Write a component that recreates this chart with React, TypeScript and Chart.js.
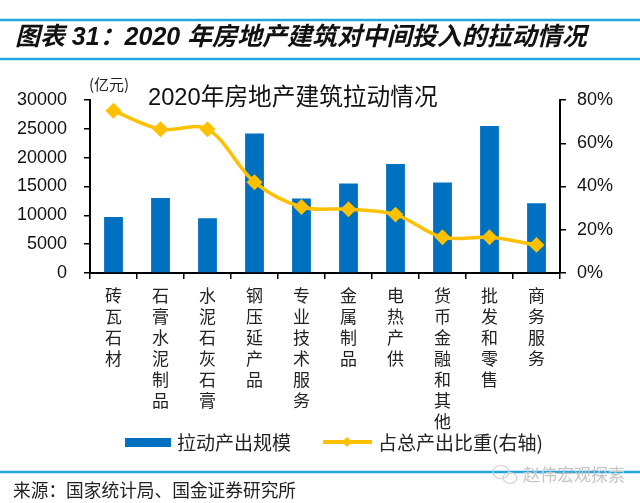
import React, { useEffect, useRef } from 'react';
import { Chart, registerables } from 'chart.js';

Chart.register(...registerables);

const categories = ['砖瓦石材', '石膏水泥制品', '水泥石灰石膏', '钢压延产品', '专业技术服务', '金属制品', '电热产供', '货币金融和其他', '批发和零售', '商务服务'];
const pullOutput = [9700, 13000, 9500, 24200, 12900, 15500, 18900, 15700, 25500, 12100];
const shareOfOutput = [75, 66.5, 66.5, 42, 30.5, 29.5, 27, 16.5, 16.5, 13];
const leftAxis = { min: 0, max: 30000, step: 5000 };
const rightAxis = { min: 0, max: 80, step: 20 };
const pageTitle = '图表 31：2020 年房地产建筑对中间投入的拉动情况';
const chartTitle = '2020年房地产建筑拉动情况';
const unitLabel = '(亿元)';
const seriesNames = ['拉动产出规模', '占总产出比重(右轴)'];
const sourceText = '来源：国家统计局、国金证券研究所';
const watermarkText = '赵伟宏观探索';

const BLUE = '#0070C0';
const GOLD = '#FFC000';
const RULE = '#22A6DE';
const CJK = "'Noto Sans CJK SC', 'Liberation Sans', sans-serif";
const LAT = "'Liberation Sans', 'Noto Sans CJK SC', sans-serif";

const decorations = {
  id: 'decorations',
  afterDraw(chart: any) {
    const ctx: CanvasRenderingContext2D = chart.ctx;
    const W = chart.width;
    ctx.save();
    // horizontal rules
    ctx.strokeStyle = RULE;
    ctx.lineWidth = 2.5;
    [20, 59, 472].forEach((y) => {
      ctx.beginPath();
      ctx.moveTo(0, y);
      ctx.lineTo(W, y);
      ctx.stroke();
    });

    // page title, fitted to width
    ctx.fillStyle = '#111';
    ctx.textBaseline = 'middle';
    ctx.textAlign = 'left';
    let size = 24;
    ctx.font = `italic bold ${size}px ${LAT}`;
    const w = ctx.measureText(pageTitle).width;
    size = size * 572 / w;
    ctx.font = `italic bold ${size}px ${LAT}`;
    ctx.fillText(pageTitle, 15, 38);

    // unit label
    ctx.fillStyle = '#222';
    ctx.font = `15px ${CJK}`;
    ctx.fillText(unitLabel, 89, 84);

    // chart title
    ctx.fillStyle = '#111';
    ctx.font = `23.7px ${LAT}`;
    ctx.fillText(chartTitle, 148, 98);

    // legend
    ctx.fillStyle = BLUE;
    ctx.fillRect(125, 438, 46, 9);
    ctx.fillStyle = '#222';
    ctx.font = `19px ${CJK}`;
    ctx.fillText(seriesNames[0], 177, 443);
    ctx.strokeStyle = GOLD;
    ctx.lineWidth = 4;
    ctx.beginPath();
    ctx.moveTo(323, 442);
    ctx.lineTo(372, 442);
    ctx.stroke();
    ctx.fillStyle = GOLD;
    ctx.beginPath();
    ctx.moveTo(347, 437);
    ctx.lineTo(352, 442);
    ctx.lineTo(347, 447);
    ctx.lineTo(342, 442);
    ctx.closePath();
    ctx.fill();
    ctx.fillStyle = '#222';
    ctx.fillText(seriesNames[1], 378, 443);

    // source
    ctx.font = `17.7px ${CJK}`;
    ctx.fillStyle = '#222';
    ctx.fillText(sourceText, 13, 490);

    // watermark
    ctx.strokeStyle = '#cfcfcf';
    ctx.lineWidth = 1.2;
    ctx.beginPath();
    ctx.ellipse(501, 472, 8, 6.5, 0, 0, Math.PI * 2);
    ctx.stroke();
    ctx.beginPath();
    ctx.ellipse(510, 478, 7, 5.5, 0, 0, Math.PI * 2);
    ctx.stroke();
    ctx.font = `17px ${CJK}`;
    ctx.fillStyle = '#c4c4c4';
    ctx.fillText(watermarkText, 523, 475);
    ctx.restore();
  },
};

export default function App() {
  const ref = useRef<HTMLCanvasElement | null>(null);

  useEffect(() => {
    if (!ref.current) return;
    const chart = new Chart(ref.current, {
      type: 'bar',
      data: {
        labels: categories.map((c) => c.split('')),
        datasets: [
          {
            type: 'line',
            label: seriesNames[1],
            data: shareOfOutput,
            yAxisID: 'y1',
            borderColor: GOLD,
            backgroundColor: GOLD,
            borderWidth: 3.5,
            tension: 0.35,
            pointStyle: 'rectRot',
            pointRadius: 5.5,
            pointBackgroundColor: GOLD,
            pointBorderColor: GOLD,
            order: 0,
          } as any,
          {
            type: 'bar',
            label: seriesNames[0],
            data: pullOutput,
            yAxisID: 'y',
            backgroundColor: BLUE,
            barPercentage: 0.4,
            categoryPercentage: 1,
            order: 1,
          },
        ],
      },
      options: {
        animation: false,
        responsive: false,
        devicePixelRatio: 1,
        layout: { padding: { top: 100, left: 0, right: 0, bottom: 0 } },
        plugins: {
          legend: { display: false },
          tooltip: { enabled: false },
          title: { display: false },
        },
        scales: {
          x: {
            offset: true,
            border: { color: '#000', width: 2 },
            grid: { drawOnChartArea: false, color: '#000', tickLength: 6, lineWidth: 1.5, offset: true },
            ticks: {
              color: '#222',
              font: { family: CJK, size: 17, lineHeight: 1.24 },
              maxRotation: 0,
              minRotation: 0,
              autoSkip: false,
              padding: 6,
            },
            afterFit: (s: any) => { s.height = 230; },
          },
          y: {
            position: 'left',
            min: leftAxis.min,
            max: leftAxis.max,
            border: { color: '#000', width: 2 },
            grid: { drawOnChartArea: false, color: '#000', tickLength: 6, lineWidth: 1.5 },
            ticks: {
              stepSize: leftAxis.step,
              color: '#111',
              font: { family: LAT, size: 18 },
              padding: 17,
              callback: (v: any) => String(v),
            },
            afterFit: (s: any) => { s.width = 90; },
          },
          y1: {
            position: 'right',
            min: rightAxis.min,
            max: rightAxis.max,
            border: { color: '#000', width: 2 },
            grid: { drawOnChartArea: false, color: '#000', tickLength: 6, lineWidth: 1.5 },
            ticks: {
              stepSize: rightAxis.step,
              color: '#111',
              font: { family: LAT, size: 18 },
              padding: 11,
              callback: (v: any) => `${v}%`,
            },
            afterFit: (s: any) => { s.width = 80; },
          },
        },
      },
      plugins: [decorations],
    });
    return () => chart.destroy();
  }, []);

  return (
    <div style={{ position: 'fixed', left: 0, top: 0, width: 640, height: 503, background: '#fff' }}>
      <canvas ref={ref} width={640} height={503} style={{ width: 640, height: 503, display: 'block' }} />
    </div>
  );
}
